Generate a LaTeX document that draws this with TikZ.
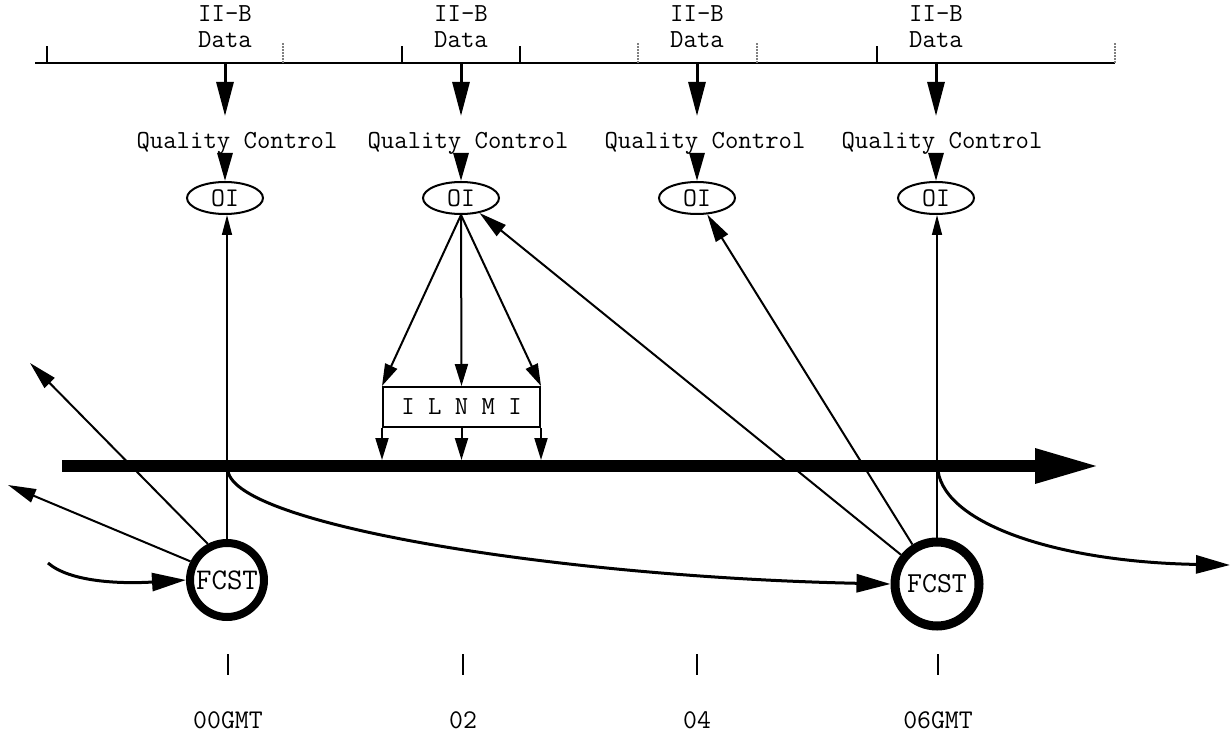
\documentclass[tikz,border=0pt]{standalone}
\usetikzlibrary{arrows.meta,shapes.geometric,calc}
\begin{document}
\begin{tikzpicture}[x=1pt,y=-1pt,
  lbl/.style={font=\ttfamily\fontsize{26}{28}\selectfont, inner sep=0pt, anchor=base},
  oinode/.style={ellipse, draw, line width=2pt, minimum width=76pt, minimum height=32pt, inner sep=0pt, font=\ttfamily\fontsize{27}{29}\selectfont},
  fcst/.style={circle, draw, inner sep=0pt},
  bigarrow/.style={line width=3pt, -{Triangle[length=34pt,width=17pt]}},
  qcarrow/.style={line width=3pt, -{Triangle[length=28pt,width=15pt]}},
  thinarrow/.style={line width=1.5pt, -{Triangle[length=20pt,width=10pt]}},
  outarrow/.style={line width=2pt, -{Triangle[length=28pt,width=14pt]}},
  curvearrow/.style={line width=3pt, -{Triangle[length=34pt,width=18pt]}},
  boxarrow/.style={line width=2pt, -{Triangle[length=22pt,width=13pt]}},
  soltick/.style={line width=2pt},
  dottick/.style={line width=2pt, gray, densely dotted},
  gmttick/.style={line width=2.5pt},
  gmt/.style={font=\ttfamily\fontsize{27}{29}\selectfont, inner sep=0pt, anchor=base}
]
\useasboundingbox (0,0) rectangle (1230,735);

% top data line
\coordinate (tl) at (35,63);
\coordinate (tr) at (1115,63);
\draw[line width=2pt] (tl) -- (tr);
\foreach \x [count=\i] in {47,402,520,877} {
  \coordinate (st\i) at (\x,63);
  \draw[soltick] (st\i) -- ++(0,-17);
}
\foreach \x [count=\i] in {283,638,757,1115} {
  \coordinate (dt\i) at (\x,63);
  \draw[dottick] (dt\i) -- ++(0,-20);
}

% columns
\foreach \i/\x/\q in {1/225/237, 2/461/468, 3/697/705, 4/936/942} {
  \node[lbl] (iib\i) at (\x,22) {II-B};
  \node[lbl] (dat\i) at (\x,48) {Data};
  \coordinate (d\i) at (\x,63);
  \coordinate (dend\i) at (\x,116);
  \draw[bigarrow] (d\i) -- (dend\i);
  \node[lbl] (qc\i) at (\q,149) {Quality Control};
  \node[oinode] (oi\i) at (\x,198) {OI};
  \coordinate (qs\i) at (\x,160);
  \draw[qcarrow] (qs\i) -- (oi\i.north);
}

% timeline
\coordinate (ts) at (62,466);
\coordinate (te) at (1100,466);
\draw[line width=12pt, -{Triangle[length=65pt,width=32pt]}] (ts) -- (te);

% FCST circles
\node[fcst, line width=8pt, minimum size=74pt, font=\ttfamily\fontsize{30}{32}\selectfont] (f1) at (227,580) {FCST};
\node[fcst, line width=9pt, minimum size=84pt, font=\ttfamily\fontsize{29}{31}\selectfont] (f2) at (937,584) {FCST};

% FCST -> OI vertical
\draw[thinarrow] (f1.north) -- (f1.north |- oi1.south);
\draw[thinarrow] (f2.north) -- (f2.north |- oi4.south);
% FCST2 -> OI2, OI3
\draw[outarrow] (f2) -- (oi2);
\draw[outarrow] (f2) -- (oi3);

% left FCST outgoing
\coordinate (lo1) at (30,363);
\coordinate (lo2) at (8,485);
\draw[outarrow] (f1.118) -- (lo1);
\draw[outarrow] (f1.153) -- (lo2);
% incoming
\coordinate (li) at (48,563);
\draw[curvearrow] (li) .. controls (70,582) and (120,584) .. (f1.west);

% curves from timeline
\coordinate (c1) at (228,471);
\draw[curvearrow] (c1) .. controls (236,525) and (560,577) .. (f2.west);
\coordinate (c2) at (938,471);
\coordinate (c2e) at (1230,565);
\draw[curvearrow] (c2) .. controls (946,525) and (1060,562) .. (c2e);

% ILNMI box
\node[draw, line width=2pt, minimum width=157pt, minimum height=40pt, inner sep=0pt,
      font=\ttfamily\fontsize{26}{28}\selectfont] (box) at (461.5,407) {I L N M I};
\draw[boxarrow] (oi2.south) -- (box.north west);
\draw[boxarrow] (oi2.south) -- (box.north);
\draw[boxarrow] (oi2.south) -- (box.north east);
\coordinate (b1) at (box.south west |- 0,460);
\coordinate (b2) at (box.south |- 0,460);
\coordinate (b3) at (box.south east |- 0,460);
\draw[boxarrow] (box.south west) -- (b1);
\draw[boxarrow] (box.south) -- (b2);
\draw[boxarrow] (box.south east) -- (b3);

% bottom time labels
\foreach \i/\x/\t in {1/228/00GMT, 2/463/02, 3/697/04, 4/938/06GMT} {
  \coordinate (gt\i) at (\x,654);
  \draw[gmttick] (gt\i) -- ++(0,21);
  \node[gmt] (g\i) at (\x,728) {\t};
}
\end{tikzpicture}
\end{document}
